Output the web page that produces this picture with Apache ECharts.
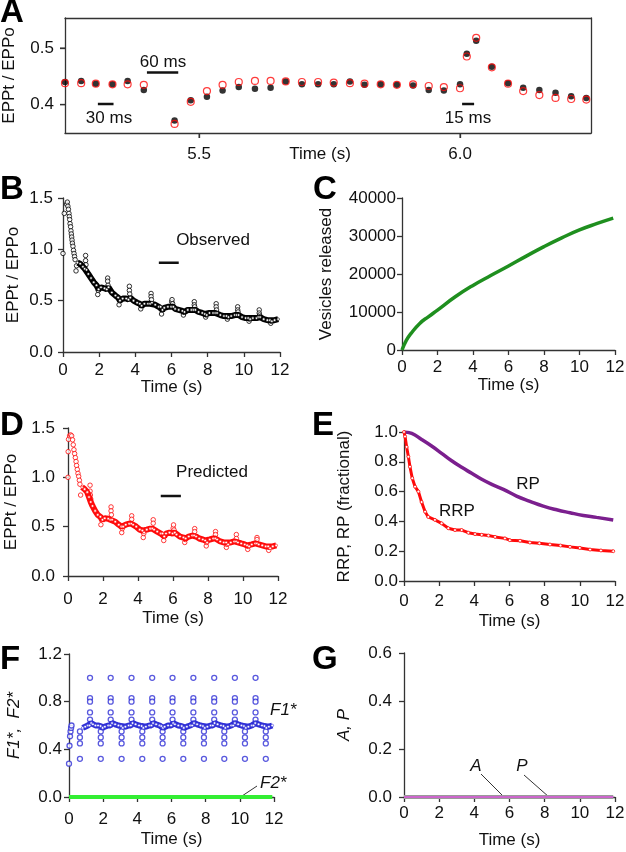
<!DOCTYPE html>
<html><head><meta charset="utf-8">
<script src="https://cdn.jsdelivr.net/npm/echarts@6/dist/echarts.min.js"></script>
<style>html,body{margin:0;padding:0;background:#fff}#c{width:626px;height:852px}</style>
</head><body><div id="c"></div>
<script>
// ---------- Panel A (5.24–6.25 s window) ----------
const aXMin = 5.243, aXMax = 6.251, aYMin = 0.35, aYMax = 0.553;
const aTime = [5.243,5.274,5.302,5.334,5.363,5.394,5.453,5.484,5.515,5.545,5.576,5.607,5.637,5.666,5.697,5.728,5.758,5.789,5.817,5.848,5.879,5.910,5.940,5.969,6.000,6.013,6.031,6.061,6.092,6.121,6.152,6.183,6.213,6.242];
const aObserved = [0.440,0.442,0.437,0.436,0.442,0.426,0.372,0.408,0.414,0.425,0.431,0.428,0.430,0.441,0.436,0.436,0.436,0.441,0.435,0.436,0.435,0.434,0.426,0.425,0.436,0.490,0.513,0.467,0.438,0.430,0.426,0.421,0.415,0.412];
const aPredicted = [0.438,0.438,0.437,0.436,0.436,0.435,0.366,0.405,0.424,0.435,0.440,0.442,0.442,0.441,0.440,0.440,0.439,0.438,0.437,0.436,0.435,0.436,0.433,0.431,0.429,0.485,0.518,0.466,0.437,0.424,0.417,0.412,0.410,0.409];
const aTicksX = [5.5, 6.0];
const aTicksY = [0.4, 0.5];
const barInterval30 = [5.306, 5.336], barInterval60 = [5.400, 5.460], barInterval15 = [6.004, 6.027];
const barY30 = 0.401, barY60 = 0.457, barY15 = 0.401;

// ---------- Panels B, D, F: stimulation train ----------
const bInitT = [0,0.07,0.20,0.24,0.27,0.30,0.33,0.35,0.37,0.39,0.42,0.44,0.46,0.48,0.50,0.52,0.55,0.58,0.61,0.64,0.67];
const bInitV = [0.96,1.35,1.44,1.46,1.42,1.39,1.35,1.32,1.29,1.25,1.22,1.18,1.15,1.12,1.09,1.06,1.03,0.99,0.96,0.93,0.90];
const bandT = [0.80,0.95,1.10,1.20,1.30,1.40,1.55,1.70,1.85,1.97,2.10,2.30,2.42,2.52,2.70,2.90,3.05,3.15,3.30,3.50,3.62,3.72,3.90,4.10,4.25,4.35,4.50,4.70,4.82,4.92,5.10,5.30,5.40,5.50,5.60,5.80,5.98,6.10,6.20,6.40,6.60,6.72,6.90,7.10,7.21,7.32,7.50,7.70,7.84,7.95,8.10,8.30,8.42,8.52,8.70,8.90,9.04,9.15,9.30,9.50,9.61,9.71,9.90,10.10,10.24,10.35,10.50,10.70,10.80,10.90,11.10,11.30,11.44,11.55,11.70,11.90];
const bBand = [0.87,0.86,0.83,0.81,0.80,0.76,0.72,0.68,0.65,0.61, 0.63,0.62,0.61,0.63,0.58,0.55,0.53,0.50,0.52,0.52, 0.51,0.53,0.50,0.48,0.47,0.45,0.47,0.47,0.47,0.48, 0.46,0.44,0.44,0.41,0.43,0.44,0.44,0.44,0.42,0.41, 0.40,0.39,0.41,0.41,0.41,0.41,0.39,0.38,0.37,0.36, 0.38,0.38,0.38,0.38,0.36,0.35,0.35,0.34,0.35,0.36, 0.36,0.36,0.34,0.33,0.33,0.32,0.33,0.33,0.34,0.34, 0.32,0.31,0.31,0.30,0.31,0.32];
const bSpikeT = [0.72,0.75,1.25,1.25,1.27,1.92,1.95,2.47,2.47,2.49,3.10,3.13,3.67,3.67,3.69,4.30,4.33,4.87,4.87,4.89,5.45,5.48,6.01,6.03,6.06,6.66,6.69,7.26,7.26,7.28,7.89,7.92,8.47,8.47,8.49,9.09,9.12,9.66,9.66,9.68,10.29,10.32,10.85,10.85,10.87,11.49,11.52];
const bSpikeV = [0.79,0.84,0.94,0.89,0.85,0.56,0.60,0.72,0.69,0.65,0.46,0.50,0.64,0.60,0.565,0.42,0.45,0.57,0.54,0.51,0.37,0.41,0.49,0.51,0.47,0.36,0.39,0.49,0.46,0.44,0.34,0.36,0.47,0.44,0.41,0.32,0.34,0.44,0.41,0.39,0.30,0.32,0.41,0.38,0.36,0.28,0.30];
const windowObsT = [5.30, 6.40], windowObsY = 0.87;

const dInitT = [0,0.01,0.03,0.09,0.15,0.21,0.26,0.30,0.34,0.38,0.42,0.46,0.49,0.53,0.57,0.61,0.65,0.68];
const dInitV = [1.00,1.26,1.385,1.42,1.43,1.42,1.38,1.33,1.28,1.24,1.20,1.16,1.12,1.08,1.04,1.01,0.97,0.93];
const dBand = [0.90,0.88,0.85,0.80,0.75,0.71,0.66,0.62,0.60,0.57, 0.585,0.58,0.57,0.57,0.55,0.52,0.50,0.50,0.52,0.53, 0.53,0.52,0.50,0.47,0.46,0.44,0.47,0.48,0.48,0.47, 0.45,0.43,0.43,0.40,0.43,0.44,0.43,0.44,0.42,0.40, 0.39,0.38,0.40,0.41,0.41,0.40,0.38,0.37,0.36,0.34, 0.37,0.38,0.38,0.37,0.35,0.34,0.34,0.32,0.34,0.35, 0.35,0.34,0.33,0.32,0.31,0.30,0.32,0.33,0.33,0.32, 0.31,0.30,0.30,0.28,0.30,0.31];
const dSpikeT = [0.72,1.26,1.26,1.28,1.30,1.88,1.91,2.46,2.46,2.48,3.07,3.10,3.64,3.64,4.30,4.33,4.87,4.87,5.47,5.50,6.01,6.03,6.06,6.67,6.70,7.24,7.24,7.90,7.93,8.43,8.43,9.05,9.08,9.62,9.62,10.27,10.30,10.80,10.80,11.47,11.50];
const dSpikeV = [0.82,0.92,0.86,0.82,0.78,0.52,0.57,0.70,0.66,0.62,0.44,0.48,0.61,0.575,0.39,0.43,0.57,0.535,0.36,0.40,0.485,0.518,0.466,0.34,0.37,0.48,0.45,0.305,0.34,0.45,0.42,0.29,0.32,0.42,0.38,0.27,0.30,0.39,0.37,0.26,0.29];
const windowPredT = [5.30, 6.45], windowPredY = 0.81;

const fInitT = [0,0.03,0.06,0.09,0.12,0.15];
const fInitV = [0.28,0.43,0.51,0.55,0.58,0.60];
const fBand = [0.58,0.59,0.60,0.60,0.62,0.61,0.60,0.60,0.595,0.58, 0.59,0.60,0.60,0.62,0.61,0.60,0.595,0.58,0.59,0.60, 0.60,0.62,0.61,0.60,0.595,0.58,0.59,0.60,0.60,0.62, 0.61,0.60,0.595,0.58,0.59,0.60,0.60,0.62,0.61,0.60, 0.595,0.58,0.59,0.60,0.60,0.62,0.61,0.60,0.595,0.58, 0.59,0.60,0.60,0.62,0.61,0.60,0.595,0.58,0.59,0.60, 0.60,0.62,0.61,0.60,0.595,0.58,0.59,0.60,0.60,0.62, 0.61,0.60,0.595,0.58,0.59,0.60];
const fLowT = [0.64,1.86,3.08,4.29,5.48,6.69,7.90,9.09,10.30,11.52];
const fLowStack = [0.32,0.45,0.50,0.55];
const fHighT = [1.23,2.44,3.66,4.87,6.06,7.28,8.50,9.71,10.92];
const fHighStack = [1.0,0.83,0.80,0.71,0.65];
const f2T = [0, 3, 6, 9, 11.9];
const f2V = [0, 0, 0, 0, 0];

// ---------- Panel C ----------
const cT = [0,0.25,0.5,1,1.5,2,3,4,5,6,7,8,9,10,11,11.9];
const cV = [0,2600,4300,7000,8800,10500,14000,17000,19600,22100,24700,27200,29500,31600,33300,34700];

// ---------- Panel E ----------
const rrpT = [0,0.06,0.15,0.25,0.34,0.47,0.63,0.82,1.0,1.2,1.38,1.76,2.14,2.52,2.9,3.28,3.66,4.04,4.42,4.8,5.18,5.74,6.02,6.6,7.16,7.7,8.3,8.9,9.44,10.0,10.58,11.2,11.9];
const rrpV = [1.0,0.97,0.90,0.834,0.767,0.69,0.633,0.60,0.53,0.465,0.43,0.41,0.387,0.354,0.342,0.342,0.324,0.315,0.31,0.305,0.296,0.286,0.274,0.27,0.258,0.253,0.245,0.238,0.229,0.222,0.211,0.205,0.20];
const rpT = [0,0.44,1.0,1.57,2.14,2.71,3.28,3.85,4.42,4.99,5.65,6.4,7.16,7.92,8.68,9.44,10.2,10.95,11.9];
const rpV = [1.0,0.99,0.95,0.906,0.857,0.807,0.763,0.723,0.683,0.649,0.615,0.57,0.535,0.503,0.478,0.458,0.44,0.427,0.409];

// ---------- Panel G ----------
const gT = [0, 3, 6, 9, 11.9];
const gA = [0, 0, 0, 0, 0];
const gP = [0, 0, 0, 0, 0];

// ================= build =================
const FONT = '"Liberation Sans", Arial, sans-serif';
const AX = '#333';
const FS = 17;
const zip = (t, v) => t.map((x, i) => [x, v[i]]);
const stack = (ts, vals) => { const out = []; ts.forEach(t => vals.forEach(v => out.push([t, v]))); return out; };

const grids = [
  {left:65, top:18, width:526, height:115},
  {left:63, top:198, width:217, height:154},
  {left:402, top:198, width:213, height:152},
  {left:68, top:428, width:210, height:148},
  {left:404, top:432, width:211, height:149},
  {left:69, top:654, width:205, height:143},
  {left:404, top:653, width:211, height:144}
].map(g => Object.assign({containLabel:false, outerBoundsMode:'none'}, g));

const lineSt = {color:AX, width:1.3};
function xAx(gi, margin, gap, extra) {
  return Object.assign({
    gridIndex: gi, type:'value', min:0, max:12, interval:2,
    axisLine:{show:true, onZero:false, lineStyle:lineSt},
    axisTick:{show:true, inside:false, length:5, lineStyle:lineSt},
    axisLabel:{show:true, color:'#111', fontSize:FS, fontFamily:FONT, margin:margin},
    splitLine:{show:false},
    name:'Time (s)', nameLocation:'middle', nameGap:gap, nameMoveOverlap:false,
    nameTextStyle:{color:'#111', fontSize:FS, fontFamily:FONT}
  }, extra || {});
}
function yAx(gi, min, max, interval, dec, margin, name, gap, italic, extra) {
  return Object.assign({
    gridIndex: gi, type:'value', min:min, max:max, interval:interval,
    axisLine:{show:true, onZero:false, lineStyle:lineSt},
    axisTick:{show:true, inside:false, length:5, lineStyle:lineSt},
    axisLabel:{show:true, color:'#111', fontSize:FS, fontFamily:FONT, margin:margin,
      formatter: v => dec >= 0 ? Number(v).toFixed(dec) : String(Math.round(v))},
    splitLine:{show:false},
    name:name, nameLocation:'middle', nameGap:gap, nameRotate:90, nameMoveOverlap:false,
    nameTextStyle:{color:'#111', fontSize:FS, fontFamily:FONT, fontStyle: italic ? 'italic' : 'normal'}
  }, extra || {});
}

// Panel A: labels via customValues, plus plain overlay axes that draw the axis lines
const xA = {
  gridIndex:0, type:'value', min:aXMin, max:aXMax,
  axisLine:{show:true, onZero:false, lineStyle:lineSt},
  axisTick:{show:true, length:5, customValues:aTicksX, lineStyle:lineSt},
  axisLabel:{show:true, color:'#111', fontSize:FS, fontFamily:FONT, margin:13, customValues:aTicksX, formatter: v => Number(v).toFixed(1)},
  splitLine:{show:false},
  name:'Time (s)', nameLocation:'middle', nameGap:13, nameMoveOverlap:false,
  nameTextStyle:{color:'#111', fontSize:FS, fontFamily:FONT, padding:[0,0,0,-16]}
};
const yA = {
  gridIndex:0, type:'value', min:aYMin, max:aYMax,
  axisLine:{show:true, onZero:false, lineStyle:lineSt},
  axisTick:{show:true, length:5, customValues:aTicksY, lineStyle:lineSt},
  axisLabel:{show:true, color:'#111', fontSize:FS, fontFamily:FONT, margin:11, customValues:aTicksY, formatter: v => Number(v).toFixed(1)},
  splitLine:{show:false},
  name:'EPPt / EPPo', nameLocation:'middle', nameGap:47, nameRotate:90, nameMoveOverlap:false,
  nameTextStyle:{color:'#111', fontSize:FS, fontFamily:FONT}
};
const xALine = {gridIndex:0, type:'value', min:aXMin, max:aXMax, axisLine:{show:true, onZero:false, lineStyle:lineSt},
  axisTick:{show:false}, axisLabel:{show:false}, splitLine:{show:false}};
const yALine = {gridIndex:0, type:'value', min:aYMin, max:aYMax, axisLine:{show:true, onZero:false, lineStyle:lineSt},
  axisTick:{show:false}, axisLabel:{show:false}, splitLine:{show:false}};

const xAxis = [xA, xAx(1, 10, 27), xAx(2, 9, 27), xAx(3, 15, 34), xAx(4, 12, 32), xAx(5, 14, 34), xAx(6, 8, 35), xALine];
const yAxis = [
  yA,
  yAx(1, 0, 1.5, 0.5, 1, 10, 'EPPt / EPPo', 41),
  yAx(2, 0, 40000, 10000, -1, 6, 'Vesicles released', 67),
  yAx(3, 0, 1.5, 0.5, 1, 13, 'EPPt / EPPo', 48),
  yAx(4, 0, 1.0, 0.2, 1, 6, 'RRP, RP (fractional)', 51),
  yAx(5, 0, 1.2, 0.4, 1, 7, 'F1*,  F2*', 46, true),
  yAx(6, 0, 0.6, 0.2, 1, 12, 'A, P', 51, true),
  yALine
];

const BLUE = '#2f2fd6', RED = '#ff0a0a', PURPLE = '#7b1f8e', GREEN = '#1f8f1f';
function openScatter(gi, data, color, size, bw) {
  return {type:'scatter', xAxisIndex:gi, yAxisIndex:gi, data:data, symbol:'circle', symbolSize:size,
    itemStyle:{color:'#fff', borderColor:color, borderWidth:bw}, silent:true};
}
function band(gi, data, color, lw, size) {
  return {type:'line', xAxisIndex:gi, yAxisIndex:gi, data:data, symbol:'circle', symbolSize:size, showSymbol:true,
    lineStyle:{color:color, width:lw}, itemStyle:{color:'#fff', borderColor:color, borderWidth:0.6}, silent:true};
}
function seg(gi, t, y, color, w) {
  return {type:'line', xAxisIndex:gi, yAxisIndex:gi, data:[[t[0], y],[t[1], y]], symbol:'none',
    lineStyle:{color:color, width:w}, silent:true};
}

const series = [
  // A tick marks (data-driven marks at the axis edges)
  {type:'scatter', xAxisIndex:7, yAxisIndex:7, clip:false, silent:true, data:aTicksX.map(t => [t, aYMin]),
    symbol:'rect', symbolSize:[1.3, 5], symbolOffset:[0, 2.5], itemStyle:{color:AX}},
  {type:'scatter', xAxisIndex:7, yAxisIndex:7, clip:false, silent:true, data:aTicksY.map(v => [aXMin, v]),
    symbol:'rect', symbolSize:[5, 1.3], symbolOffset:[-2.5, 0], itemStyle:{color:AX}},
  // A
  {type:'scatter', xAxisIndex:0, yAxisIndex:0, data:zip(aTime, aObserved), symbol:'circle', symbolSize:6.5, itemStyle:{color:'#000'}},
  {type:'scatter', xAxisIndex:0, yAxisIndex:0, data:zip(aTime, aPredicted), symbol:'circle', symbolSize:7, itemStyle:{color:'rgba(0,0,0,0)', borderColor:RED, borderWidth:1.2}},
  seg(0, barInterval30, barY30, '#111', 2.5), seg(0, barInterval60, barY60, '#111', 2.5), seg(0, barInterval15, barY15, '#111', 2.5),
  // B
  band(1, zip(bandT, bBand), '#000', 6, 2.6),
  openScatter(1, zip(bInitT, bInitV), '#000', 4.5, 1),
  openScatter(1, zip(bSpikeT, bSpikeV), '#000', 4.5, 1),
  seg(1, windowObsT, windowObsY, '#111', 2.5),
  // C
  {type:'line', xAxisIndex:2, yAxisIndex:2, data:zip(cT, cV), symbol:'none', smooth:true, lineStyle:{color:GREEN, width:3.5}},
  // D
  band(3, zip(bandT, dBand), RED, 6, 2.6),
  openScatter(3, zip(dInitT, dInitV), RED, 4.5, 1),
  openScatter(3, zip(dSpikeT, dSpikeV), RED, 4.5, 1),
  seg(3, windowPredT, windowPredY, '#111', 2.5),
  // E
  {type:'line', xAxisIndex:4, yAxisIndex:4, data:zip(rpT, rpV), symbol:'none', smooth:true, lineStyle:{color:PURPLE, width:3.5}},
  {type:'line', xAxisIndex:4, yAxisIndex:4, data:zip(rrpT, rrpV), symbol:'circle', symbolSize:3, lineStyle:{color:RED, width:3}, itemStyle:{color:'#fff', borderColor:RED, borderWidth:0.8}},
  // F
  {type:'line', xAxisIndex:5, yAxisIndex:5, data:zip(f2T, f2V), symbol:'none', lineStyle:{color:'#33ee33', width:4}},
  band(5, zip(bandT, fBand), BLUE, 6, 2.6),
  openScatter(5, zip(fInitT, fInitV), BLUE, 5, 1.3),
  openScatter(5, stack(fLowT, fLowStack), BLUE, 5, 1.3),
  openScatter(5, stack(fHighT, fHighStack), BLUE, 5, 1.3),
  // G
  {type:'line', xAxisIndex:6, yAxisIndex:6, data:zip(gT, gA), symbol:'none', lineStyle:{color:'#9a9a9a', width:4}},
  {type:'line', xAxisIndex:6, yAxisIndex:6, data:zip(gT, gP), symbol:'none', lineStyle:{color:'#cc66cc', width:2}}
];

function txt(s, x, y, opts) {
  return {type:'text', silent:true, style:Object.assign({text:s, x:x, y:y, fill:'#111', font:FS + 'px ' + FONT,
    align:'center', verticalAlign:'middle', textAlign:'center', textVerticalAlign:'middle'}, opts || {})};
}
function letter(s, x, y) { return txt(s, x, y, {font:'bold 33px ' + FONT, align:'left', textAlign:'left', fill:'#000'}); }
function lead(x1, y1, x2, y2) { return {type:'line', silent:true, shape:{x1, y1, x2, y2}, style:{stroke:'#333', lineWidth:1}}; }

const graphic = [
  letter('A', 0, 13), letter('B', 0, 190), letter('C', 313, 190), letter('D', 0, 426), letter('E', 312, 426), letter('F', 0, 660), letter('G', 312, 660),
  txt('30 ms', 109, 118), txt('60 ms', 163, 62), txt('15 ms', 468, 118),
  txt('Observed', 213, 240), txt('Predicted', 212, 472),
  txt('RP', 528, 484), txt('RRP', 457, 511),
  txt('F1*', 270, 710, {font:'italic ' + FS + 'px ' + FONT, align:'left', textAlign:'left'}),
  txt('F2*', 260, 783, {font:'italic ' + FS + 'px ' + FONT, align:'left', textAlign:'left'}),
  lead(257, 786, 242, 796),
  txt('A', 476, 766, {font:'italic ' + FS + 'px ' + FONT}),
  txt('P', 522, 766, {font:'italic ' + FS + 'px ' + FONT}),
  lead(481, 774, 503, 796), lead(524, 775, 549, 797)
];

const chart = echarts.init(document.getElementById('c'), null, {renderer:'canvas'});
chart.setOption({animation:false, backgroundColor:'#fff', textStyle:{fontFamily:FONT},
  grid:grids, xAxis:xAxis, yAxis:yAxis, series:series, graphic:graphic});
</script></body></html>
